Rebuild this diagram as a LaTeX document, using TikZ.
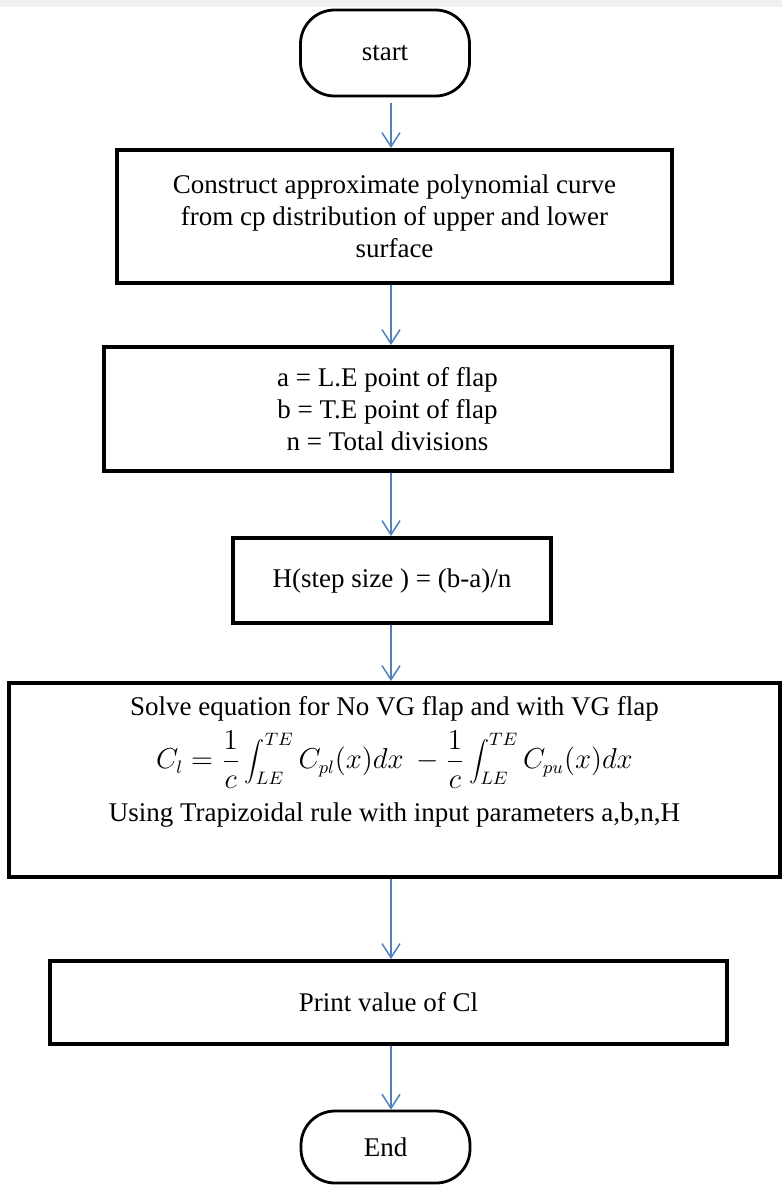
\documentclass[tikz,border=0pt]{standalone}
\usepackage{fontspec}
\setmainfont{Liberation Serif}
\usetikzlibrary{arrows.meta, positioning}

\definecolor{flowblue}{RGB}{79,129,189}

\tikzset{
    procbox/.style={draw, line width=2pt, align=center, inner sep=0pt,
        font=\fontsize{13.5}{16}\selectfont},
    termbox/.style={draw, line width=1.4pt, rounded corners=17pt,
        minimum width=84.5pt, font=\fontsize{13.5}{16}\selectfont},
    flow/.style={flowblue, line width=0.75pt,
        -{Straight Barb[length=7pt, width=9pt]}}
}

\begin{document}
\begin{tikzpicture}[x=0.5pt, y=-0.5pt]

        % Area del disegno (coordinate in pixel)
        \useasboundingbox (0,0) rectangle (782,1185);
        \fill[gray!12] (0,0) rectangle (782,7);

        % ==========================================
        % BLOCCHI
        % ==========================================

        \node[termbox, minimum height=43pt] (start) at (385,53) {start};

        \node[procbox, minimum width=277.5pt, minimum height=66.5pt] (curvebox) at (394.5,216.5)
            {Construct approximate polynomial curve\\
             from cp distribution of upper and lower\\
             surface};

        \node[procbox, minimum width=284pt, minimum height=62pt] (flapbox) at (387.5,409)
            {a = L.E point of flap\\
             b = T.E point of flap\\
             n = Total divisions};

        \node[procbox, minimum width=159pt, minimum height=42.5pt] (stepbox) at (392,580.5)
            {H(step size ) = (b-a)/n};

        % Riquadro dell'equazione (testo spostato in alto)
        \node[procbox, minimum width=385.5pt, minimum height=97pt] (solvebox) at (394.5,780) {};
        \node[align=center, font=\fontsize{13.5}{16}\selectfont] (solvetext) at (394.5,762)
            {Solve equation for No VG flap and with VG flap\\[3.5pt]
             $\displaystyle C_l=\frac{1}{c}\int_{LE}^{TE}C_{pl}(x)dx\ -\frac{1}{c}\int_{LE}^{TE}C_{pu}(x)dx$\\[6pt]
             Using Trapizoidal rule with input parameters a,b,n,H};

        \node[procbox, minimum width=338.5pt, minimum height=41.5pt] (printbox) at (388.5,1002.5)
            {Print value of Cl};

        \node[termbox, minimum height=36pt] (end) at (385.5,1147) {End};

        % ==========================================
        % FRECCE
        % ==========================================

        \coordinate (axis) at (391,0);
        \draw[flow, shorten <=3pt] (start.south -| axis) -- (curvebox.north -| axis);
        \draw[flow] (curvebox.south -| axis) -- (flapbox.north -| axis);
        \draw[flow] (flapbox.south -| axis) -- (stepbox.north -| axis);
        \draw[flow] (stepbox.south -| axis) -- (solvebox.north -| axis);
        \draw[flow] (solvebox.south -| axis) -- (printbox.north -| axis);
        \draw[flow] (printbox.south -| axis) -- (end.north -| axis);

    \end{tikzpicture}
\end{document}
